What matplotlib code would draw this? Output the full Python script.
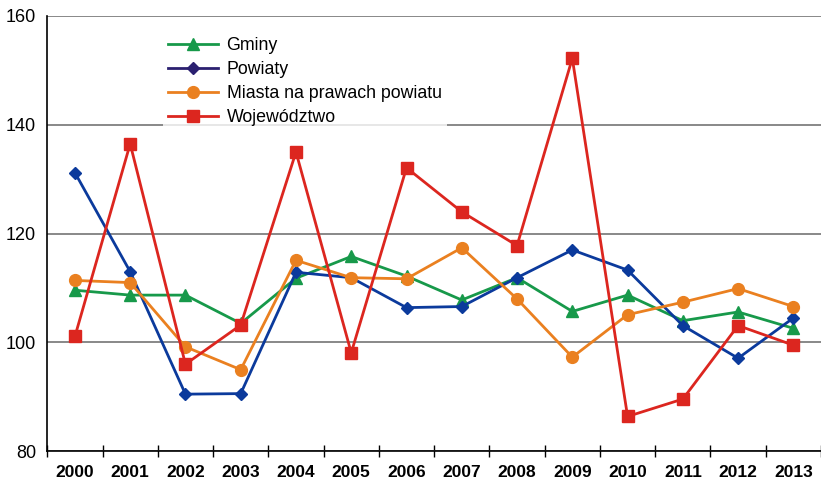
import numpy as np
import matplotlib.pyplot as plt

plt.rcParams['font.family'] = ['Liberation Sans', 'DejaVu Sans']

years = ['2000', '2001', '2002', '2003', '2004', '2005', '2006',
         '2007', '2008', '2009', '2010', '2011', '2012', '2013']
gminy = [109.6, 108.7, 108.7, 103.5, 111.8, 115.8, 112.2,
         107.8, 111.9, 105.7, 108.7, 104.0, 105.6, 102.6]
powiaty = [131.2, 113.0, 90.5, 90.6, 112.9, 111.9, 106.4,
           106.6, 111.9, 117.0, 113.3, 103.1, 97.1, 104.5]
miasta = [111.4, 111.0, 99.2, 95.0, 115.1, 111.9, 111.7,
          117.4, 108.0, 97.3, 105.1, 107.4, 109.9, 106.6]
wojewodztwo = [101.1, 136.5, 96.0, 103.2, 135.0, 98.1, 132.1,
               124.0, 117.8, 152.2, 86.4, 89.6, 103.1, 99.5]

fig = plt.figure(figsize=(8.21, 4.8), dpi=100)
ax = fig.add_axes([0.0576, 0.0598, 0.9424, 0.907])

x = np.arange(len(years))
ax.plot(x, gminy, color='#17994a', lw=2, marker='^', ms=8.5, label='Gminy', zorder=3)
ax.plot(x, powiaty, color='#0b3a9c', lw=2, marker='D', ms=6, label='Powiaty', zorder=3)
ax.plot(x, miasta, color='#ea8020', lw=2, marker='o', ms=8.5, label='Miasta na prawach powiatu', zorder=3)
ax.plot(x, wojewodztwo, color='#dc261f', lw=2, marker='s', ms=8.5, label='Województwo', zorder=3)

ax.set_ylim(80, 160)
ax.set_yticks([80, 100, 120, 140, 160])
ax.tick_params(axis='y', length=0, labelsize=13, pad=8)
ax.grid(axis='y', color='#7f7f7f', lw=1.3)
ax.set_axisbelow(True)

ax.set_xlim(-0.5, 13.33)
ax.set_xticks(np.arange(-0.5, 14, 1))
ax.set_xticklabels([])
ax.tick_params(axis='x', which='major', direction='inout', length=8, width=1)
ax.set_xticks(x, minor=True)
ax.set_xticklabels(years, minor=True, fontweight='bold', fontsize=12.5)
ax.tick_params(axis='x', which='minor', length=0, pad=10)

for s in ['top', 'right']:
    ax.spines[s].set_visible(False)
ax.spines['left'].set_color('black')
ax.spines['bottom'].set_color('black')
ax.spines['left'].set_linewidth(1.2)
ax.spines['bottom'].set_linewidth(1.2)

leg = ax.legend(loc='upper left', bbox_to_anchor=(0.149, 0.964), fontsize=12.8,
                frameon=True, facecolor='white', edgecolor='none', fancybox=False,
                handlelength=2.8, handletextpad=0.5, labelspacing=0.4,
                borderpad=0.3, borderaxespad=0)
leg.legend_handles[1].set_color('#2b2070')

fig.savefig('out.png', dpi=100)
